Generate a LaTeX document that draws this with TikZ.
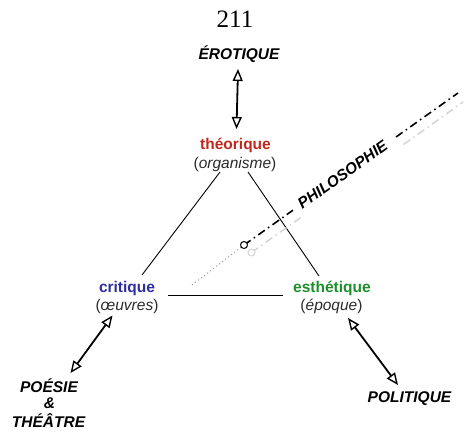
\documentclass[tikz,border=0pt]{standalone}
\usepackage{fontspec}
\setmainfont{Liberation Sans}
\newfontfamily\pagenumfont{Liberation Serif}
\usetikzlibrary{arrows.meta}
\definecolor{theored}{HTML}{C0281E}
\definecolor{critblue}{HTML}{2E2EA0}
\definecolor{esthgreen}{HTML}{1E8E2A}
\definecolor{subgray}{HTML}{2A2A2A}
\definecolor{ghost}{HTML}{D4D4D4}
\definecolor{dotgray}{HTML}{9A9A9A}
\begin{document}
\begin{tikzpicture}[x=1pt,y=-1pt,
  pole/.style={font=\fontsize{15.5}{18}\selectfont\bfseries, inner sep=0, anchor=base},
  subpole/.style={font=\fontsize{15.5}{18}\selectfont, text=subgray, inner sep=0, anchor=base},
  realm/.style={font=\fontsize{15.5}{18}\selectfont\bfseries\itshape, inner sep=0, anchor=base},
  side/.style={line width=0.9pt, black},
  duo/.style={line width=1.8pt, {Triangle[open,length=12pt,width=10pt,line width=1.4pt]}-{Triangle[open,length=12pt,width=10pt,line width=1.4pt]}},
  philo/.style={line width=1.6pt, black, dash pattern=on 8pt off 4pt on 1.5pt off 4pt},
  philoghost/.style={line width=1.5pt, ghost, dash pattern=on 8pt off 4pt on 1.5pt off 4pt},
  ring/.style={circle, draw, line width=1pt, fill=white, minimum size=7pt, inner sep=0}
]
\useasboundingbox (0,0) rectangle (471,434);

% page number
\node[inner sep=0, anchor=base, font=\pagenumfont\fontsize{25}{28}\selectfont] (pagenum) at (235,27.5) {211};

% texts
\node[realm] (erot) at (239,59.5) {ÉROTIQUE};
\node[pole, text=theored] (theo) at (235.5,149) {théorique};
\node[subpole] (theosub) at (235,168) {(\textit{organisme})};
\node[pole, text=critblue] (crit) at (127,292) {critique};
\node[subpole] (critsub) at (127,310) {(\textit{œuvres})};
\node[pole, text=esthgreen] (esth) at (332,292) {esthétique};
\node[subpole] (esthsub) at (331.5,310) {(\textit{époque})};
\node[realm] (poesie) at (49,392) {POÉSIE};
\node[realm] (amp) at (49.5,408) {\&};
\node[realm] (theatre) at (48.5,427) {THÉÂTRE};
\node[realm] (polit) at (409.5,402) {POLITIQUE};

% triangle sides
\coordinate (tl) at (220,172);
\coordinate (cl) at (142,275);
\coordinate (tr) at (248,172);
\coordinate (er) at (319,276);
\coordinate (bl) at (168,295);
\coordinate (br) at (283,295);
\draw[side] (tl) -- (cl);
\draw[side] (tr) -- (er);
\draw[side] (bl) -- (br);

% double arrows
\coordinate (e1) at (238,69);
\coordinate (e2) at (236.5,129);
\draw[duo] (e1) -- (e2);
\coordinate (c1) at (112.5,315.5);
\coordinate (c2) at (70.5,373);
\draw[duo] (c1) -- (c2);
\coordinate (s1) at (348,318);
\coordinate (s2) at (398,385);
\draw[duo] (s1) -- (s2);

% philosophy axis: ghost copy
\coordinate (g0) at (251.5,252.5);
\coordinate (g1) at (300.5,217.7);
\coordinate (g2) at (403.5,144.5);
\coordinate (g3) at (463,102);
\draw[philoghost] (g0) -- (g1);
\draw[philoghost] (g2) -- (g3);
\node[ring, draw=ghost] (gring) at (g0) {};

% dotted lead-in
\coordinate (d0) at (192,285);
\coordinate (b0) at (244,245);
\draw[dotgray, line width=0.9pt, dash pattern=on 1.2pt off 2.6pt] (d0) -- (b0);

% black axis
\coordinate (b1) at (293,210.2);
\coordinate (b2) at (396,137);
\coordinate (b3) at (458,93);
\draw[philo] (b0) -- (b1);
\draw[philo] (b2) -- (b3);
\node[ring] (bring) at (b0) {};

\node[font=\fontsize{15.5}{18}\selectfont\bfseries\itshape, inner sep=0, rotate=35.5] (philotext) at (342.5,174.5) {PHILOSOPHIE};
\end{tikzpicture}
\end{document}
